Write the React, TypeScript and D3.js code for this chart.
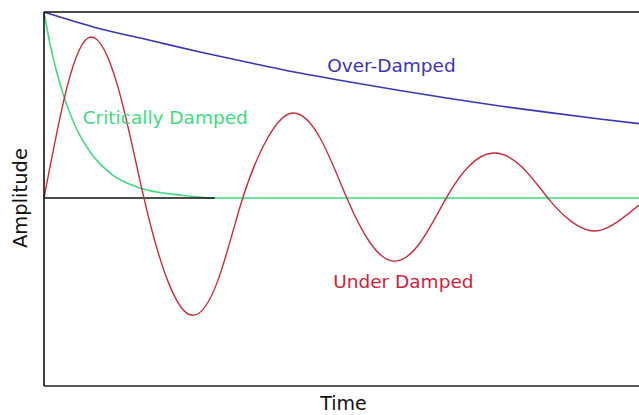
import { useMemo } from 'react';
import * as d3 from 'd3';

// Points: time 0..100 across the frame,
// amplitude 1 = top of frame, 0 = rest line
const underTime = [0, 3.9, 7.9, 12.4, 16.8, 20.8, 24.9, 29.2, 33.4, 37.6, 41.8, 46.4, 50.9, 54.8, 58.8, 63.2, 67.6, 71.4, 75.5, 80.2, 84.7, 88.6, 92.6, 96.5, 100];
const underAmp = [0, 0.6, 0.866, 0.6, 0, -0.445, -0.63, -0.445, 0, 0.323, 0.457, 0.323, 0, -0.24, -0.339, -0.24, 0, 0.171, 0.242, 0.171, 0, -0.125, -0.177, -0.125, -0.038];

const criticalTime = [0, 1.0, 2.0, 3.2, 5.2, 7.7, 11.4, 16.1, 22.9, 28.7, 100];
const criticalAmp = [1, 0.83, 0.695, 0.56, 0.39, 0.25, 0.127, 0.054, 0.016, 0, 0];

const overTime = [0, 9.4, 17.8, 26.2, 34.6, 43.0, 51.4, 59.8, 68.2, 76.6, 85.0, 93.4, 100];
const overAmp = [1, 0.91, 0.848, 0.785, 0.727, 0.672, 0.624, 0.578, 0.535, 0.495, 0.459, 0.425, 0.4];

const restTime = [0, 28.7];

const labels = [
  { text: 'Over-Damped', t: 47.6, a: 0.677, color: '#3a35b8' },
  { text: 'Critically Damped', t: 6.5, a: 0.4, color: '#3ddc7c' },
  { text: 'Under Damped', t: 48.6, a: -0.484, color: '#d4213b' },
];

const W = 639;
const H = 415;
const margin = { top: 12, left: 44, bottom: 29 };

export default function App() {
  const x = useMemo(() => d3.scaleLinear().domain([0, 100]).range([margin.left, W]), []);
  const y = useMemo(() => d3.scaleLinear().domain([-1.01, 1]).range([H - margin.bottom, margin.top]), []);

  const smooth = d3
    .line<[number, number]>()
    .x((d) => x(d[0]))
    .y((d) => y(d[1]))
    .curve(d3.curveNatural);

  const decay = d3
    .line<[number, number]>()
    .x((d) => x(d[0]))
    .y((d) => y(d[1]))
    .curve(d3.curveMonotoneX);

  const zip = (ts: number[], as: number[]) => ts.map((t, i) => [t, as[i]] as [number, number]);

  const font = '"DejaVu Sans", Verdana, sans-serif';
  const bottom = H - margin.bottom;

  return (
    <svg width={W} height={H} style={{ position: 'absolute', left: 0, top: 0, background: '#fff' }}>
      {/* Curves */}
      <path d={decay(zip(overTime, overAmp)) ?? ''} fill="none" stroke="#3a35b8" strokeWidth={1.6} />
      <path d={decay(zip(criticalTime, criticalAmp)) ?? ''} fill="none" stroke="#3ddc7c" strokeWidth={1.6} />
      <line x1={x(restTime[0])} x2={x(restTime[1])} y1={y(0)} y2={y(0)} stroke="#111" strokeWidth={1.6} />
      <path d={smooth(zip(underTime, underAmp)) ?? ''} fill="none" stroke="#cc2a3c" strokeWidth={1.4} />

      {/* Frame: top, left, bottom */}
      <line x1={margin.left} x2={W} y1={margin.top} y2={margin.top} stroke="#111" strokeWidth={1.6} />
      <line x1={margin.left} x2={margin.left} y1={margin.top} y2={bottom} stroke="#111" strokeWidth={1.6} />
      <line x1={margin.left} x2={W} y1={bottom} y2={bottom} stroke="#222" strokeWidth={1.6} />

      {/* Curve labels */}
      {labels.map((l) => (
        <text key={l.text} x={x(l.t)} y={y(l.a)} fill={l.color} fontFamily={font} fontSize={18.5}>
          {l.text}
        </text>
      ))}

      {/* Axis titles */}
      <text x={343.5} y={410} textAnchor="middle" fill="#111" fontFamily={font} fontSize={19}>
        Time
      </text>
      <text
        transform={`translate(27, ${y(0)}) rotate(-90)`}
        textAnchor="middle"
        fill="#111"
        fontFamily={font}
        fontSize={19.5}
      >
        Amplitude
      </text>
    </svg>
  );
}
